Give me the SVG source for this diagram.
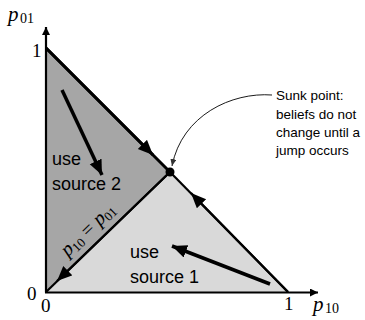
<svg xmlns="http://www.w3.org/2000/svg" width="365" height="320" viewBox="0 0 365 320">
<style>
.lbl{font-family:"Liberation Sans",Arial,sans-serif;fill:#000}
.math{font-family:"Liberation Serif","DejaVu Serif",serif;fill:#000}
.ln{stroke:#000;fill:none}
</style>
<defs>
<marker id="ah" markerUnits="userSpaceOnUse" markerWidth="16" markerHeight="14" refX="15" refY="6.5" orient="auto">
<path d="M0,0 L15,6.5 L0,13 Z" fill="#000"/>
</marker>
<marker id="ahs" markerUnits="userSpaceOnUse" markerWidth="10" markerHeight="10" refX="8" refY="4" orient="auto">
<path d="M0,0 L8,4 L0,8 Z" fill="#000"/>
</marker>
<marker id="thin" markerUnits="userSpaceOnUse" markerWidth="10" markerHeight="10" refX="7" refY="3" orient="auto">
<path d="M0,0 L7,3 L0,6 Z" fill="#333"/>
</marker>
</defs>
<g id="region-source2"><polygon points="46,48 170,172 46,292" fill="#a6a6a6"/></g>
<g id="region-source1"><polygon points="46,292 170,172 288,292" fill="#d9d9d9"/></g>
<g id="axes">
<line class="ln" x1="46" y1="292.5" x2="46" y2="27" stroke-width="2.2" marker-end="url(#ahs)"/>
<line class="ln" x1="45" y1="292.5" x2="318" y2="292.5" stroke-width="2.2" marker-end="url(#ahs)"/>
<text class="math" x="8" y="21" font-size="21" font-style="italic">p</text>
<text class="math" x="20" y="23" font-size="14">01</text>
<text class="math" x="313" y="311" font-size="21" font-style="italic">p</text>
<text class="math" x="325" y="313" font-size="14">10</text>
<text class="math" x="32" y="57" font-size="19">1</text>
<text class="math" x="27" y="300" font-size="19">0</text>
<text class="math" x="41" y="312" font-size="19">0</text>
<text class="math" x="284" y="310" font-size="19">1</text>
</g>
<g id="connectors">
<line class="ln" x1="46" y1="48" x2="170" y2="172" stroke-width="3"/>
<line class="ln" x1="46" y1="48" x2="153" y2="155" stroke-width="3" marker-end="url(#ah)"/>
<line class="ln" x1="288" y1="292" x2="170" y2="172" stroke-width="2.2"/>
<line class="ln" x1="288" y1="292" x2="191" y2="193" stroke-width="2.2" marker-end="url(#ah)"/>
<line class="ln" x1="170" y1="172" x2="46" y2="292" stroke-width="2.2"/>
<line class="ln" x1="170" y1="172" x2="57" y2="281" stroke-width="2.2" marker-end="url(#ah)"/>
<line class="ln" x1="62" y1="90" x2="102" y2="175" stroke-width="3.5" marker-end="url(#ah)"/>
<line class="ln" x1="270" y1="284" x2="172" y2="246" stroke-width="3.5" marker-end="url(#ah)"/>
<path class="ln" d="M272,95 C232,92 182,115 172,166" stroke="#555" stroke-width="0.9" marker-end="url(#thin)"/>
</g>
<g id="sunk-point">
<circle cx="170" cy="172" r="4.5" fill="#000"/>
<text class="lbl" font-size="13.5"><tspan x="276" y="100">Sunk point:</tspan><tspan x="276" y="118.5">beliefs do not</tspan><tspan x="276" y="137">change until a</tspan><tspan x="276" y="155">jump occurs</tspan></text>
</g>
<g id="use-source-2"><text class="lbl" font-size="18"><tspan x="52" y="165">use</tspan><tspan x="52" y="190">source 2</tspan></text></g>
<g id="use-source-1"><text class="lbl" font-size="18"><tspan x="130" y="258">use</tspan><tspan x="130" y="283">source 1</tspan></text></g>
<g id="diag-label"><text class="math" font-size="20" text-anchor="middle" transform="translate(92,234) rotate(-44)"><tspan font-style="italic">p</tspan><tspan font-size="13" dy="3">10</tspan><tspan dy="-3"> = </tspan><tspan font-style="italic">p</tspan><tspan font-size="13" dy="3">01</tspan></text></g>
</svg>
